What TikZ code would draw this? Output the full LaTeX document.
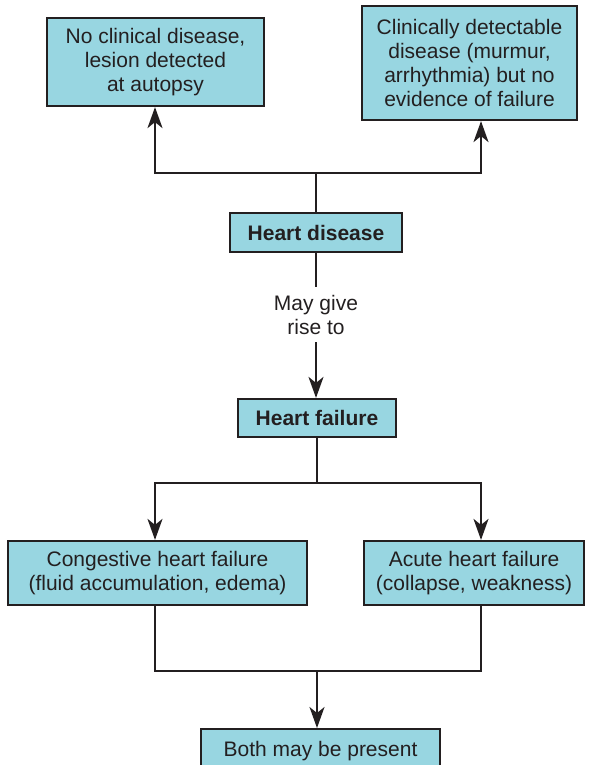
\documentclass[tikz,border=0pt]{standalone}
\usepackage{fontspec}
\setmainfont{Liberation Sans}
\usetikzlibrary{arrows.meta}
\definecolor{boxfill}{RGB}{152,214,225}
\definecolor{ink}{RGB}{35,31,32}
\begin{document}
\begin{tikzpicture}[x=1pt,y=-1pt,
  box/.style={draw=ink,line width=2.2pt,fill=boxfill,text=ink,align=center,inner sep=0pt,
    font=\fontsize{21}{24}\selectfont},
  conn/.style={draw=ink,line width=2pt},
  arr/.style={conn,-{Stealth[length=21pt,width=15pt,inset=6pt]}}]
\useasboundingbox (0,0) rectangle (592,765);
\node[box,minimum width=217pt,minimum height=88pt] (tl) at (155.5,62) {No clinical disease,\\lesion detected\\at autopsy};
\node[box,minimum width=215pt,minimum height=114pt] (tr) at (469.5,63) {Clinically detectable\\disease (murmur,\\arrhythmia) but no\\evidence of failure};
\node[box,minimum width=172pt,minimum height=39pt,font=\fontsize{21}{24}\selectfont\bfseries] (hd) at (316,232.5) {Heart disease};
\node[text=ink,align=center,inner sep=0pt,minimum height=55pt,font=\fontsize{21}{24}\selectfont] (lbl) at (316,314.5) {May give\\rise to};
\node[box,minimum width=158pt,minimum height=38pt,font=\fontsize{21}{24}\selectfont\bfseries] (hf) at (317,418) {Heart failure};
\node[box,minimum width=299pt,minimum height=64pt] (cg) at (157.5,573) {Congestive heart failure\\(fluid accumulation, edema)};
\node[box,minimum width=220pt,minimum height=64pt] (ac) at (474,573) {Acute heart failure\\(collapse, weakness)};
\node[box,minimum width=239pt,minimum height=44pt,anchor=north] (both) at (320.5,728) {Both may be present};
\coordinate (lx) at (155,0);
\coordinate (rx) at (481,0);
\coordinate (j1) at (316,173);
\coordinate (j2) at (317,483);
\coordinate (j3) at (317,671);
% top fan-out
\draw[conn] (hd.north) -- (j1);
\draw[arr] (j1) -| (tl.south -| lx);
\draw[arr] (j1) -| (tr.south -| rx);
% heart disease to heart failure
\draw[conn] (hd.south) -- (lbl.north);
\draw[arr] (lbl.south) -- (hf.north -| lbl.south);
% heart failure fan-out
\draw[conn] (hf.south) -- (j2);
\draw[arr] (j2) -| (cg.north -| lx);
\draw[arr] (j2) -| (ac.north -| rx);
% merge
\draw[conn] (cg.south -| lx) |- (j3);
\draw[conn] (ac.south -| rx) |- (j3);
\draw[arr] (j3) -- (both.north -| j3);
\end{tikzpicture}
\end{document}
